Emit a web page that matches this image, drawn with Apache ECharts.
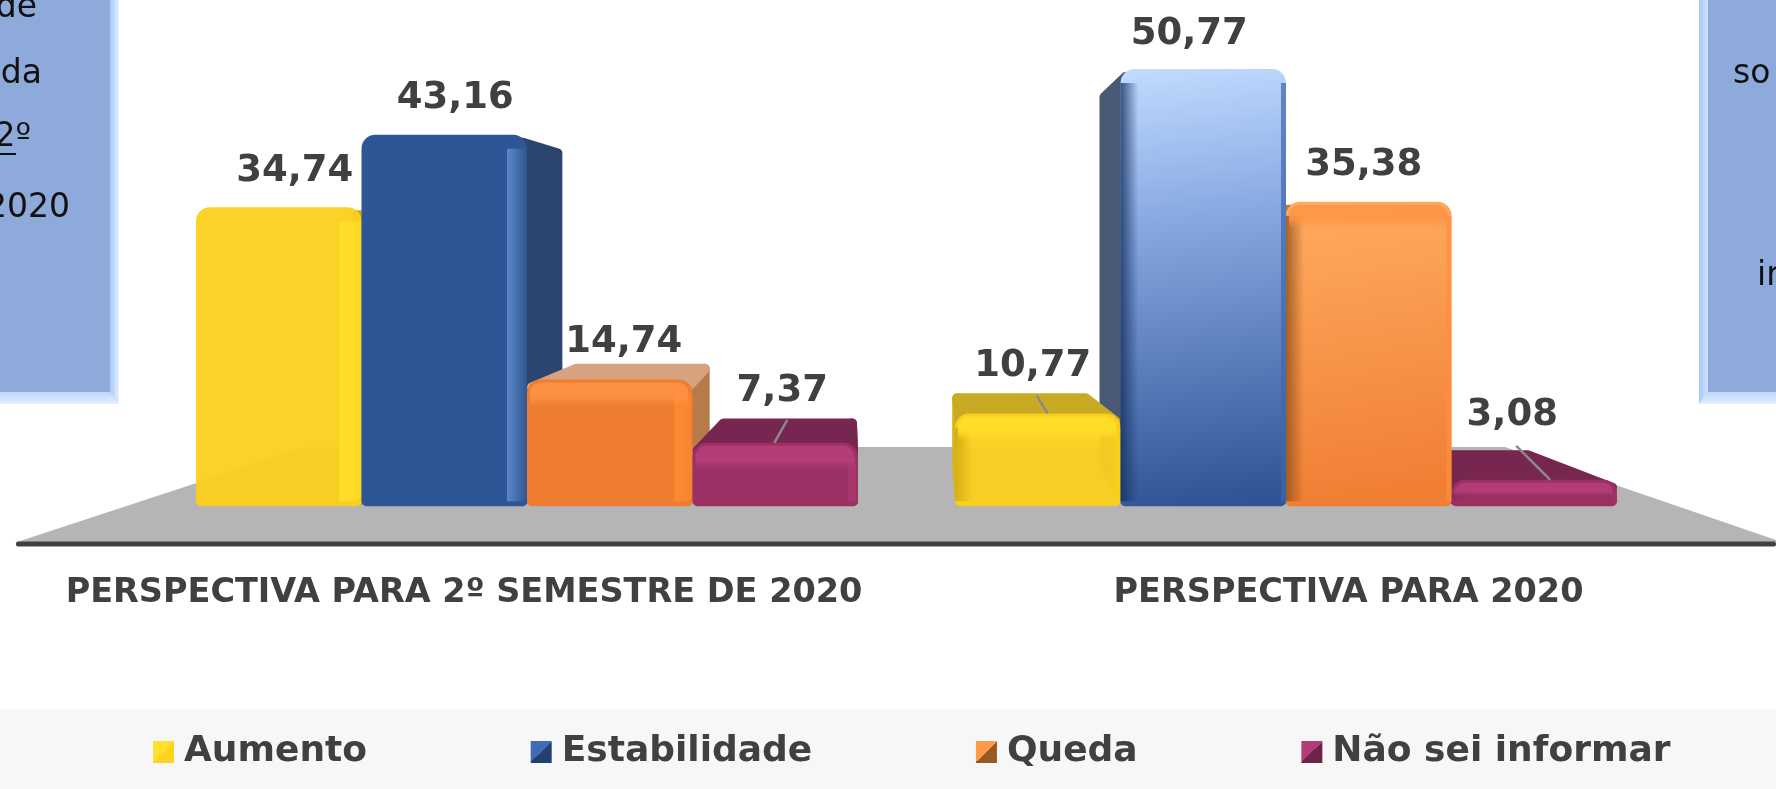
<!DOCTYPE html>
<html><head><meta charset="utf-8">
<style>html,body{margin:0;padding:0;background:#fff}#c{width:1776px;height:789px}</style>
<script src="https://cdn.jsdelivr.net/npm/echarts@6/dist/echarts.min.js"></script>
</head><body><div id="c"></div>
<script>
const categories = ['PERSPECTIVA PARA 2º SEMESTRE DE 2020', 'PERSPECTIVA PARA 2020'];
const seriesNames = ['Aumento', 'Estabilidade', 'Queda', 'Não sei informar'];
const aumento = [34.74, 10.77];
const estabilidade = [43.16, 50.77];
const queda = [14.74, 35.38];
const naoSei = [7.37, 3.08];
const allValues = [aumento, estabilidade, queda, naoSei];

const INK = '#404040', FONT = '"DejaVu Sans"';
const G = (x0, y0, x1, y1, stops) => new echarts.graphic.LinearGradient(x0, y0, x1, y1, stops.map(c => ({offset: c[0], color: c[1]})));
const clear = c => echarts.color.modifyAlpha(c, 0);
const V = {x: 889, y: 255, kx: 0.11, ky: 0.14};   // perspective: vanishing point
const BAR_RATIO = 165.5 / 759;

// one look per series: [first group, second group]
const looks = [
  {legend: ['#ffe02e', '#fdd224'],
   front: [() => '#fdd01c', () => '#fdd01c'], top: ['#c9aa25', '#c9aa25'], side: ['#c9aa25', '#d6b420'],
   strip: ['#ffe22a', 'rgba(255,226,42,0.5)'], band: '#ffe02a', shade: '#c9a812', edge: '#f5d31c', opacity: 0.95},
  {legend: ['#3f6cb5', '#22406f'],
   front: [() => '#2e5596', () => G(0, 0, 0.35, 1, [[0, '#c2dcff'], [0.35, '#88a9e2'], [1, '#2f5597']])], top: ['#2c4470', '#3f5270'], side: ['#2c4470', '#4a5a75'],
   strip: ['#5f8dd3', '#33598f'], band: '#5f8dd3', shade: '#16305e', edge: '#3d66ab', opacity: 1},
  {legend: ['#ff9a48', '#955a26'],
   front: [() => '#ee7d30', () => G(0, 0, 0.3, 1, [[0, '#ffac60'], [1, '#f07e33']])], top: ['#d7a27f', '#d7a27f'], side: ['#b87a49', '#b87a49'],
   strip: ['#ff8b32', '#fa8530'], band: '#ff9445', shade: '#8f4f1e', edge: '#ff8f3e', opacity: 1},
  {legend: ['#b23c78', '#6e2449'],
   front: [() => '#9a3063', () => '#9a3063'], top: ['#76264f', '#76264f'], side: ['#76264f', '#76264f'],
   strip: ['#ab3b72', '#9e3367'], band: '#b83f7b', shade: '#7a2750', edge: '#a23468', opacity: 1}
];
// label placement tuning, [series][group]: [dx, dy, leader?]
const labelTune = [
  [[16, -36], [-5, -47, [-5, -18, 6, 0]]],
  [[11, -36], [-14, -35]],
  [[14, -37], [-5, -36]],
  [[7, -51, [8, -23, -5, 0]], [-22, -64, [-22, -34, 12, 0]]]
];

function persp(p) { return [p[0] + V.kx * (V.x - p[0]), p[1] + V.ky * (V.y - p[1])]; }

function renderBar(si) {
  return function (params, api) {
    const gi = api.value(0), val = api.value(1);
    const [cx, top] = api.coord([gi, val]);
    const base = api.coord([gi, 0])[1];
    const bw = api.size([1, 0])[0] * BAR_RATIO;
    const l = cx + (si - 2) * bw, r = l + bw, cm = l + bw / 2;
    const look = looks[si], kids = [];
    const pad = 5;   // rounded stroke half width
    const poly = (pts, fill, z2) => kids.push({type: 'polygon', z2, shape: {points: pts},
      style: {fill, stroke: fill, lineWidth: pad * 2, lineJoin: 'round'}});
    const fTL = [l + pad, top + pad + 3], fTR = [r - pad, top + pad + 3];
    const fBL = [l + pad, base - pad], fBR = [r - pad, base - pad];
    const back = (p, dx, dy) => { const q = persp(p); return [q[0] + dx, q[1] + dy]; };
    const flankDy = top < V.y ? -5 : 0;
    if (gi === 0) poly([fTR, fBR, back(fBR, -pad, 0), back(fTR, -pad, flankDy)], look.side[gi], 2 + si);
    else poly([fTL, fBL, back(fBL, pad, 0), back(fTL, pad, flankDy)], look.side[gi], 2 + si);
    if (top > V.y) poly([fTL, fTR, back(fTR, -pad, 0), back(fTL, pad, 0)], look.top[gi], 6);
    const w = r - l, h = base - top;
    const rad = Math.min(14, h / 2);
    kids.push({type: 'rect', z2: 10 + (gi === 1 ? -si : si), shape: {x: l, y: top, width: w, height: h, r: [rad, rad, 5, 5]},
      style: {fill: look.front[gi](), opacity: look.opacity}});
    // bevels
    const bz = 30;
    if (gi === 0) {
      const sw = si === 0 ? 22 : si === 1 ? 20 : 18;
      if (h > 70) kids.push({type: 'rect', z2: bz, shape: {x: r - sw, y: top + rad, width: sw - 1, height: h - rad - 5, r: [0, 0, 6, 0]},
        style: {fill: G(0, 0, 1, 0, [[0, look.strip[0]], [1, look.strip[1]]]), opacity: 0.9}});
      else kids.push({type: 'rect', z2: bz, shape: {x: r - 10, y: top + rad, width: 8, height: h - rad - 5},
        style: {fill: look.band, opacity: 0.45}});
    } else {
      kids.push({type: 'rect', z2: bz, shape: {x: l, y: top + rad, width: 18, height: h - rad - 5},
        style: {fill: G(0, 0, 1, 0, [[0, look.shade], [1, clear(look.shade)]]), opacity: si === 3 ? 0.35 : 0.8}});
      kids.push({type: 'rect', z2: bz, shape: {x: r - 5, y: top + rad, width: 5, height: h - rad - 5},
        style: {fill: look.edge, opacity: 0.7}});
    }
    if (h < 130 || (gi === 1 && si === 2)) {
      kids.push({type: 'rect', z2: bz + 1, shape: {x: l + 3, y: top + 3, width: w - 7, height: Math.min(24, h / 2), r: [rad - 3, rad - 3, 0, 0]},
        style: {fill: G(0, 0, 0, 1, [[0, look.band], [0.6, look.band], [1, clear(look.band)]]), opacity: 0.85}});
    }
    const t = labelTune[si][gi];
    if (t[2]) {
      const q = t[2];
      kids.push({type: 'line', z2: 45, shape: {x1: cm + q[0] + 4, y1: top + q[1], x2: cm + q[2] + 4, y2: top + q[3]},
        style: {stroke: '#8a8a8a', lineWidth: 2.5}});
    }
    kids.push({type: 'text', z2: 50, style: {
      text: val.toFixed(2).replace('.', ','), x: cm + t[0], y: top + t[1],
      align: 'center', verticalAlign: 'middle', font: 'bold 37px ' + FONT, fill: INK}});
    return {type: 'group', children: kids};
  };
}

const panelFill = '#8eaadb';
const panelText = (t, x, y, align) => ({type: 'text', z: 1, style: {text: t, x, y, align: align, verticalAlign: 'middle', font: '33px ' + FONT, fill: '#111'}});
const graphics = [
  {type: 'polygon', z: -5, shape: {points: [[17, 542], [306, 447], [1505, 447], [1782, 542]]}, style: {fill: '#b5b5b5'}},
  {type: 'rect', z: -4, shape: {x: 16, y: 541.5, width: 1760, height: 5, r: 2}, style: {fill: INK}},
  {type: 'rect', z: -6, shape: {x: 0, y: 709, width: 1776, height: 80}, style: {fill: '#f7f7f7'}},
  // left note
  {type: 'rect', z: 0, shape: {x: 0, y: 392, width: 119, height: 12}, style: {fill: G(0, 0, 0, 1, [[0, '#bcd6fa'], [1, '#e3f0ff']])}},
  {type: 'polygon', z: 0, shape: {points: [[110, 0], [119, 0], [119, 404], [110, 392]]}, style: {fill: G(0, 0, 1, 0, [[0, '#a9c8f5'], [1, '#e3f0ff']])}},
  {type: 'rect', z: 0, shape: {x: 0, y: 0, width: 110, height: 392}, style: {fill: panelFill}},
  panelText('de', 37, 8, 'right'), panelText('da', 42, 74, 'right'), panelText('2º', 31, 137, 'right'), panelText('2020', 70, 208, 'right'),
  {type: 'rect', z: 1, shape: {x: 0, y: 153, width: 16, height: 2}, style: {fill: '#111'}},
  // right note
  {type: 'rect', z: 0, shape: {x: 1699, y: 392, width: 77, height: 12}, style: {fill: G(0, 0, 0, 1, [[0, '#bcd6fa'], [1, '#e3f0ff']])}},
  {type: 'polygon', z: 0, shape: {points: [[1699, 0], [1708, 0], [1708, 392], [1699, 404]]}, style: {fill: G(0, 0, 1, 0, [[0, '#a9c8f5'], [1, '#cfe3ff']])}},
  {type: 'rect', z: 0, shape: {x: 1708, y: 0, width: 68, height: 392}, style: {fill: panelFill}},
  panelText('so', 1733, 74, 'left'), panelText('in', 1757, 276, 'left')
];

const option = {
  animation: false,
  backgroundColor: '#ffffff',
  textStyle: {fontFamily: FONT},
  grid: [
    {left: 147.5, width: 1518, top: 32.7, height: 473.6},
    {left: 464, width: 884.5, top: 32.7, height: 473.6}
  ],
  xAxis: [
    {type: 'category', gridIndex: 0, data: categories, axisLine: {show: false}, axisTick: {show: false}, axisLabel: {show: false}},
    {type: 'category', gridIndex: 1, boundaryGap: false, data: categories, axisLine: {show: false}, axisTick: {show: false}, splitLine: {show: false},
     axisLabel: {interval: 0, margin: 70, color: INK, fontWeight: 'bold', fontSize: 33.5, fontFamily: FONT, hideOverlap: false, alignMinLabel: 'center', alignMaxLabel: 'center'}}
  ],
  yAxis: [
    {type: 'value', gridIndex: 0, min: 0, max: 55, show: false},
    {type: 'value', gridIndex: 1, min: 0, max: 55, show: false}
  ],
  legend: {
    left: 148, top: 729, itemWidth: 21, itemHeight: 22, itemGap: 163.7, icon: 'rect',
    textStyle: {color: INK, fontWeight: 'bold', fontSize: 36, fontFamily: FONT, padding: [0, 0, 0, 5]},
    data: seriesNames.map((n, i) => ({name: n, itemStyle: {color: G(0, 0, 1, 1, [[0, looks[i].legend[0]], [0.5, looks[i].legend[0]], [0.5, looks[i].legend[1]], [1, looks[i].legend[1]]])}}))
  },
  graphic: {elements: graphics},
  series: seriesNames.map((n, i) => ({
    name: n, type: 'custom', xAxisIndex: 0, yAxisIndex: 0, clip: false,
    renderItem: renderBar(i),
    encode: {x: 0, y: 1},
    itemStyle: {color: looks[i].legend[0]},
    data: allValues[i].map((v, g) => [g, v])
  }))
};
const chart = echarts.init(document.getElementById('c'), null, {renderer: 'canvas'});
chart.setOption(option);
</script></body></html>
